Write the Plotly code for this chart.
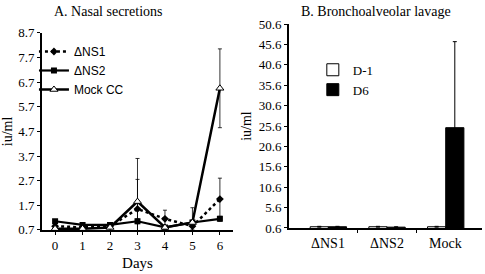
import plotly.graph_objects as go

days = [0, 1, 2, 3, 4, 5, 6]
ns1 = [0.85, 0.8, 0.85, 1.55, 1.15, 0.85, 1.95]
ns1_err = [0.1, 0.05, 0.05, 1.2, 0.35, 0.15, 0.85]
ns2 = [1.05, 0.9, 0.9, 1.05, 0.8, 1.0, 1.15]
ns2_err = [0.05, 0.05, 0.05, 0.1, 0.05, 0.1, 0.1]
mock = [0.75, 0.75, 0.8, 1.85, 0.8, 1.0, 6.45]
mock_err = [0.05, 0.05, 0.05, 1.75, 0.05, 0.6, 1.6]

groups = ["ΔNS1", "ΔNS2", "Mock"]
d_minus1 = [0.9, 0.9, 0.9]
d_minus1_err = [0.1, 0.1, 0.1]
d6 = [0.9, 0.8, 25.2]
d6_err = [0.1, 0.1, 21.1]

a_yticks = [0.7, 1.7, 2.7, 3.7, 4.7, 5.7, 6.7, 7.7, 8.7]
b_yticks = [0.6, 5.6, 10.6, 15.6, 20.6, 25.6, 30.6, 35.6, 40.6, 45.6, 50.6]

serif = "Liberation Serif"
sans = "Liberation Sans"

fig = go.Figure()

err = lambda e: dict(type="data", array=e, color="black", thickness=0.8, width=2)

fig.add_trace(go.Scatter(x=days, y=ns1, name="ΔNS1", mode="lines+markers",
                         line=dict(color="black", width=2.5, dash="dot"),
                         marker=dict(symbol="diamond", size=6, color="black"),
                         error_y=err(ns1_err), xaxis="x", yaxis="y", legend="legend"))
fig.add_trace(go.Scatter(x=days, y=ns2, name="ΔNS2", mode="lines+markers",
                         line=dict(color="black", width=2.2),
                         marker=dict(symbol="square", size=6, color="black"),
                         error_y=err(ns2_err), xaxis="x", yaxis="y", legend="legend"))
fig.add_trace(go.Scatter(x=days, y=mock, name="Mock CC", mode="lines+markers",
                         line=dict(color="black", width=2.5),
                         marker=dict(symbol="triangle-up", size=7, color="white",
                                     line=dict(color="black", width=1)),
                         error_y=err(mock_err), xaxis="x", yaxis="y", legend="legend"))

fig.add_trace(go.Bar(x=groups, y=d_minus1, name="D-1", marker=dict(color="white", line=dict(color="black", width=1)),
                     error_y=dict(type="data", array=d_minus1_err, color="black", thickness=1, width=2),
                     xaxis="x2", yaxis="y2", legend="legend2"))
fig.add_trace(go.Bar(x=groups, y=d6, name="D6", marker=dict(color="black", line=dict(color="black", width=1)),
                     error_y=dict(type="data", array=d6_err, color="black", thickness=1, width=2),
                     xaxis="x2", yaxis="y2", legend="legend2"))

axis_common = dict(showgrid=False, zeroline=False, showline=True, linecolor="black", linewidth=2,
                   ticks="outside", ticklen=3, tickcolor="black", automargin=False,
                   tickfont=dict(family=serif, size=13, color="black"))

fig.update_layout(
    width=485, height=274,
    margin=dict(l=0, r=0, t=0, b=0, autoexpand=False),
    paper_bgcolor="white", plot_bgcolor="white",
    barmode="group", bargap=0.38, bargroupgap=0,
    xaxis=dict(domain=[0.087, 0.48], range=[-0.47, 6.47], tickvals=days, anchor="y",
               title=dict(text="Days", font=dict(family=serif, size=15, color="black"), standoff=5),
               **axis_common),
    yaxis=dict(domain=[0.161, 0.88], range=[0.7, 8.7], tickvals=a_yticks,
               ticktext=[f"{v:.1f}" for v in a_yticks], anchor="x",
               title=dict(text="iu/ml", font=dict(family=serif, size=14, color="black"), standoff=8),
               **axis_common),
    xaxis2=dict(domain=[0.596, 0.994], range=[-0.67, 2.62], anchor="y2",
                tickvals=[0.5, 1.5], ticktext=["", ""], **axis_common),
    yaxis2=dict(domain=[0.168, 0.912], range=[0.6, 50.6], tickvals=b_yticks,
                ticktext=[f"{v:.1f}" for v in b_yticks], anchor="x2",
                title=dict(text="iu/ml", font=dict(family=serif, size=14, color="black"), standoff=4),
                **axis_common),
    legend=dict(x=0.07, y=0.865, xanchor="left", yanchor="top", bgcolor="rgba(0,0,0,0)",
                font=dict(family=sans, size=12, color="black"), tracegroupgap=0,
                itemwidth=30, borderwidth=0),
    legend2=dict(x=0.645, y=0.80, xanchor="left", yanchor="top", bgcolor="rgba(0,0,0,0)",
                 font=dict(family=serif, size=13, color="black"), itemwidth=30, borderwidth=0),
    annotations=[
        dict(text="A. Nasal secretions", x=108 / 485, y=1 - 2 / 274, xref="paper", yref="paper",
             xanchor="center", yanchor="top", showarrow=False,
             font=dict(family=serif, size=14, color="black")),
        dict(text="B. Bronchoalveolar lavage", x=376 / 485, y=1 - 2 / 274, xref="paper", yref="paper",
             xanchor="center", yanchor="top", showarrow=False,
             font=dict(family=serif, size=14, color="black")),
        *[dict(text=g, x=i, y=0.168, xref="x2", yref="paper", xanchor="center", yanchor="top",
               showarrow=False, font=dict(family=serif, size=14, color="black"), yshift=-6)
          for i, g in enumerate(groups)],
    ],
)

fig.write_html("out.html", config={"displayModeBar": False})
with open("out.html", encoding="utf-8") as f:
    html = f.read()
html = html.replace("<body>", '<body style="margin:0;padding:0;">', 1)
with open("out.html", "w", encoding="utf-8") as f:
    f.write(html)
